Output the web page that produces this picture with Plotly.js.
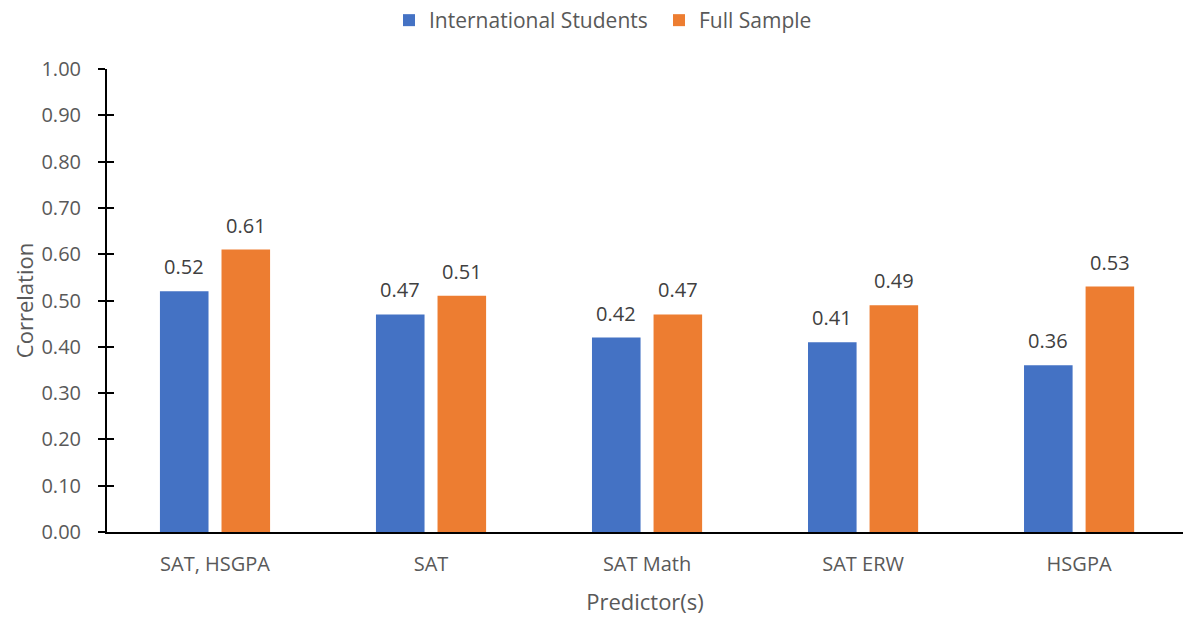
<!DOCTYPE html>
<html><head><meta charset="utf-8">
<script src="https://cdn.plot.ly/plotly-3.0.1.min.js"></script>
<style>html,body{margin:0;padding:0;background:#fff}#c{width:1183px;height:619px}</style>
</head><body><div id="c"></div>
<script>
const categories = ["SAT, HSGPA", "SAT", "SAT Math", "SAT ERW", "HSGPA"];
const intlStudents = [0.52, 0.47, 0.42, 0.41, 0.36];
const fullSample = [0.61, 0.51, 0.47, 0.49, 0.53];
const seriesNames = ["International Students", "Full Sample"];
const yTicks = [0,0.1,0.2,0.3,0.4,0.5,0.6,0.7,0.8,0.9,1.0];

const font = "Open Sans, Noto Sans, sans-serif";
const traces = [
  {type:'bar', name:seriesNames[0], x:categories, y:intlStudents, marker:{color:'#4472C4'}, hoverinfo:'none'},
  {type:'bar', name:seriesNames[1], x:categories, y:fullSample, marker:{color:'#ED7D31'}, hoverinfo:'none'},
  {type:'scatter', x:[categories[0]], y:[0], yaxis:'y2', mode:'markers', marker:{opacity:0}, showlegend:false, hoverinfo:'none'}
];
const annotations = [];
[intlStudents, fullSample].forEach((vals, s) => {
  vals.forEach((v, i) => {
    annotations.push({x:categories[i], y:v, xref:'x', yref:'y', text:v.toFixed(2), showarrow:false,
      xshift:(s===0?-30.75:30.75), yanchor:'bottom', yshift:9,
      font:{family:font, size:20, color:'#404040'}});
  });
});
const layout = {
  width:1183, height:619,
  margin:{l:107, r:0, t:69, b:87},
  paper_bgcolor:'#fff', plot_bgcolor:'#fff',
  font:{family:font, color:'#595959', size:20},
  barmode:'group', bargap:0.43, bargroupgap:0.211,
  showlegend:true,
  legend:{orientation:'h', x:0.513, xanchor:'center', y:1, yanchor:'top', yref:'container', font:{size:21, color:'#595959'}, traceorder:'normal', entrywidth:225},
  xaxis:{type:'category', range:[-0.5, 4.481], showline:true, linecolor:'#000', linewidth:2, ticks:'', showgrid:false,
    ticklabelstandoff:13, tickfont:{size:20, color:'#595959'},
    title:{text:'Predictor(s)', font:{size:22, color:'#595959'}, standoff:19}},
  yaxis:{range:[0,1], tickvals:yTicks, tickformat:'.2f', showline:true, linecolor:'#000', linewidth:2, ticks:'outside', ticklen:7, tickwidth:2, tickcolor:'#000', showgrid:false, zeroline:false,
    ticklabelstandoff:13, tickfont:{size:20, color:'#595959'},
    title:{text:'Correlation', font:{size:22, color:'#595959'}, standoff:2}},
  yaxis2:{overlaying:'y', range:[0,1], tickvals:yTicks, showticklabels:false, ticks:'inside', ticklen:7, tickwidth:2, tickcolor:'#000', showgrid:false, zeroline:false, showline:false},
  annotations:annotations
};
Plotly.newPlot('c', traces, layout, {displayModeBar:false, staticPlot:true});
</script></body></html>
